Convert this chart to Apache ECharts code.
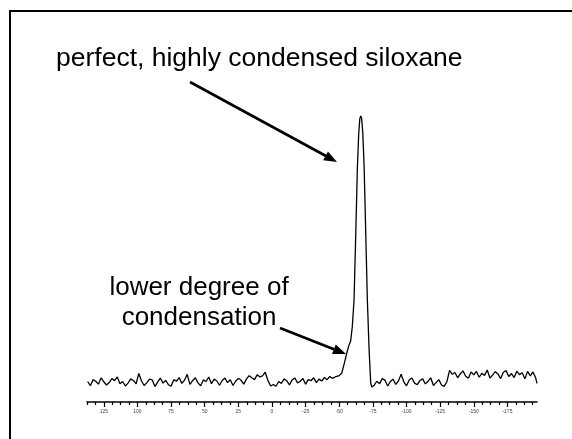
<!DOCTYPE html>
<html>
<head>
<meta charset="utf-8">
<script src="https://cdn.jsdelivr.net/npm/echarts@6/dist/echarts.min.js"></script>
<style>
html,body{margin:0;padding:0;background:#fff;}
#chart{width:572px;height:439px;}
</style>
</head>
<body>
<div id="chart"></div>
<script>
// Tick labels (ppm)
var majorTicks = [125, 100, 75, 50, 25, 0, -25, -50, -75, -100, -125, -150, -175];
var minorTicks = [137.5, 131.25, 118.75, 112.5, 106.25, 93.75, 87.5, 81.25, 68.75, 62.5, 56.25,
  43.75, 37.5, 31.25, 18.75, 12.5, 6.25, -6.25, -12.5, -18.75, -31.25, -37.5, -43.75,
  -56.25, -62.5, -68.75, -81.25, -87.5, -93.75, -106.25, -112.5, -118.75, -131.25, -137.5, -143.75,
  -156.25, -162.5, -168.75, -181.25, -187.5, -193.75];

// Spectrum, left baseline region: chemical shift (ppm) and intensity
var ppmLeft = [137,135,133,131,129,127,125,123,121,119,117,115,113,111,109,107,105,103,101,
  99,
  97,95,93,91,89,87,85,83,81,79,77,75,73,71,69,67,65,63,
  61,59,57,55,53,51,49,47,45,43,41,39,37,35,33,31,29,27,25,23,21,
  19,17,15,13,11,9,7,5,
  3,1,-1,
  -3,-5,-7,-9,-11,-13,-15,-17,-19,-21,-23,-25,-27,-29,-31,-33,-35,
  -37,-39,-41,-43,-45,-47];
var intLeft = [0.2,-1.4,0.9,0.3,-0.8,1.6,0.1,-1.1,-0.2,1.3,0.5,1.9,-0.6,0.2,-1.5,-0.4,1.2,0.6,-0.7,
  3.2,
  0.4,-1.3,-0.2,1.1,0.8,-1.7,0.0,1.5,-0.4,0.6,-1.0,-1.6,0.9,0.3,1.7,-0.5,0.7,2.9,
  -0.9,0.5,1.6,-0.3,-1.4,0.8,0.2,1.9,-0.6,1.1,0.4,-1.2,0.6,1.5,-0.2,0.9,-1.3,0.3,1.4,0.7,-0.8,
  1.1,2.4,1.6,0.9,2.7,1.9,2.3,3.7,
  0.6,-1.5,-0.9,
  -1.6,0.2,-0.5,1.2,0.4,-1.1,0.8,1.5,-0.3,0.3,1.3,-0.8,0.9,0.5,1.6,-0.2,1.1,
  0.4,1.7,0.9,2.1,1.4,1.9];

// Main Q peak with low-field shoulder
var ppmPeak = [-50,-51.9,-53.8,-55.6,-57,-58.5,-59.7,-61.0,-62.3,-63.5,-64.5,-65.3,-66.0,-66.7,-67.5,-68.5,-69.7,-70.9,-72.2,-73.4,-74.2];
var intPeak = [2.4,3.4,7.1,10.9,13.5,15.5,20.8,30.8,56,80.9,93.6,99,100,99,93.6,80.8,56,30.8,12,-0.4,-1.9];

// Right baseline region
var ppmRight = [-76,-78,-80,-82,-84,-86,-88,-90,-92,-94,-96,-98,-100,-102,-104,-106,-108,-110,-112,-114,-116,-118,-120,-122,-124,-126,-128,-130,
  -132,-134,-136,-138,-140,-142,-144,-146,-148,-150,-152,-154,-156,-158,-160,-162,-164,-166,-168,-170,-172,-174,-176,-178,-180,-182,-184,-186,-188,-190,-192,-194,-196,
  -197];
var intRight = [-1.2,0.3,-0.6,1.3,0.7,-1.5,0.2,1.1,-0.9,0.4,2.9,0.1,-1.4,0.8,1.5,-0.4,-1.0,0.6,1.2,-0.7,0.3,1.6,-1.3,-0.2,0.9,-1.1,-1.6,0.1,
  4.4,2.9,3.6,1.6,3.1,4.2,2.2,1.4,3.8,2.7,4.0,1.8,3.3,2.5,4.5,1.5,2.6,3.9,3.0,1.3,3.7,4.3,2.1,3.2,1.7,4.1,2.8,3.5,1.2,4.0,2.3,3.8,1.6,
  -0.5];

var titleText = 'perfect, highly condensed siloxane';
var noteLines = ['lower degree of', 'condensation'];

function pairs(xs, ys){ var out=[]; for (var i=0;i<xs.length;i++) out.push([xs[i], ys[i]]); return out; }
var spectrum = pairs(ppmLeft, intLeft).concat(pairs(ppmPeak, intPeak), pairs(ppmRight, intRight));

function arrow(x1,y1,x2,y2){
  var dx=x2-x1, dy=y2-y1, L=Math.sqrt(dx*dx+dy*dy), ux=dx/L, uy=dy/L, px=-uy, py=ux;
  var hl=13, hw=5;
  var bx=x2-hl*ux, by=y2-hl*uy;
  return [
    {type:'line', shape:{x1:x1,y1:y1,x2:bx+ux*2,y2:by+uy*2}, style:{stroke:'#000', lineWidth:2.6}},
    {type:'polygon', shape:{points:[[x2,y2],[bx+hw*px,by+hw*py],[bx-hw*px,by-hw*py]]}, style:{fill:'#000'}}
  ];
}

var chart = echarts.init(document.getElementById('chart'), null, {renderer:'canvas'});
var fontFam = '"Liberation Sans", Arial, sans-serif';
chart.setOption({
  backgroundColor:'#fff',
  animation:false,
  grid:{left:87, right:35, top:110, bottom:37},
  xAxis:[{
    type:'value', inverse:true, min:-197, max:137.5, position:'bottom',
    axisLine:{show:true, onZero:false, lineStyle:{color:'#000', width:1.5}},
    axisTick:{show:true, length:5, lineStyle:{color:'#000', width:1.2}, customValues:majorTicks},
    axisLabel:{show:true, fontSize:5, color:'#444', margin:7, fontFamily:fontFam, customValues:majorTicks},
    splitLine:{show:false}
  },{
    type:'value', inverse:true, min:-197, max:137.5, position:'bottom', offset:0,
    axisLine:{show:false, onZero:false},
    axisTick:{show:true, length:3, lineStyle:{color:'#000', width:1.2}, customValues:minorTicks},
    axisLabel:{show:false},
    splitLine:{show:false}
  }],
  yAxis:{type:'value', show:false, min:-7.5, max:102.25, splitLine:{show:false}},
  series:[{
    type:'line', xAxisIndex:0, data:spectrum, showSymbol:false, symbol:'none',
    lineStyle:{color:'#000', width:1.3}, silent:true
  }],
  graphic:[
    {type:'rect', shape:{x:10, y:11, width:700, height:600}, style:{fill:null, stroke:'#000', lineWidth:2}},
    {type:'text', x:56, y:59, style:{text:titleText, font:'26.5px '+fontFam, fill:'#000', textAlign:'left', textVerticalAlign:'middle'}},
    {type:'text', x:199, y:288, style:{text:noteLines[0], font:'26px '+fontFam, fill:'#000', textAlign:'center', textVerticalAlign:'middle'}},
    {type:'text', x:199, y:318, style:{text:noteLines[1], font:'26px '+fontFam, fill:'#000', textAlign:'center', textVerticalAlign:'middle'}}
  ].concat(arrow(190,82,337,162), arrow(280,328,346,354))
});
</script>
</body>
</html>
